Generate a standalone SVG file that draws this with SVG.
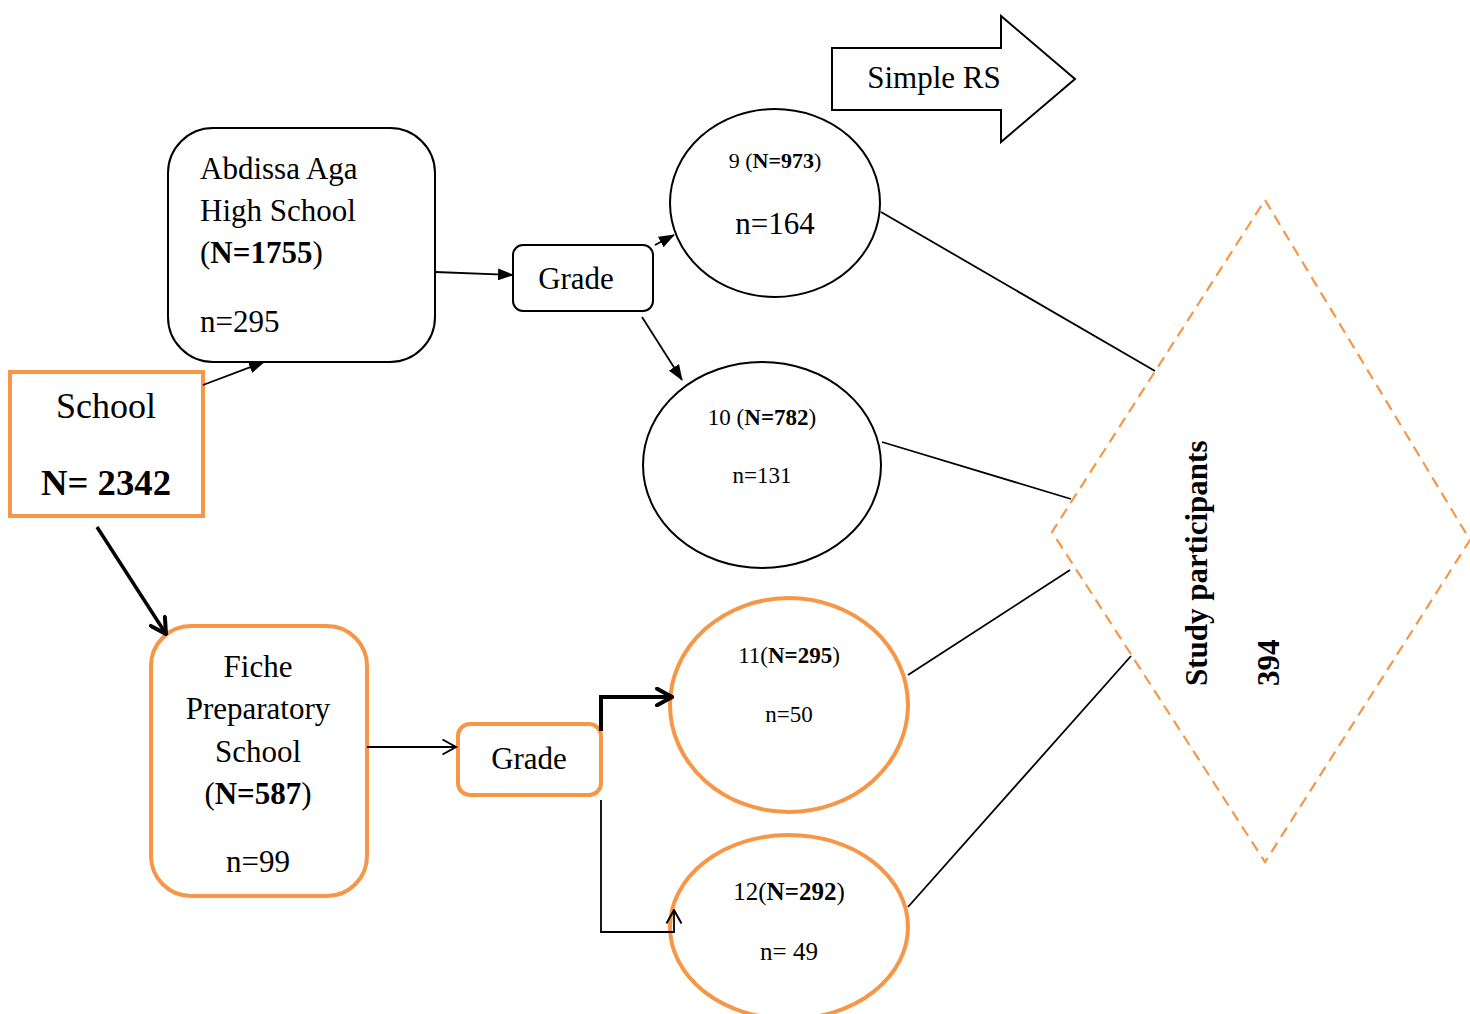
<svg xmlns="http://www.w3.org/2000/svg" width="1470" height="1014" viewBox="0 0 1470 1014">
<style>
  text { font-family: "Liberation Serif", "Times New Roman", serif; fill: #000; }
  .blk { fill: #fff; stroke: #000; stroke-width: 2; }
  .org { fill: #fff; stroke: #F79646; stroke-width: 4; }
  .ln { fill: none; stroke: #000; stroke-width: 1.8; }
  .b { font-weight: bold; }
  .mid { text-anchor: middle; }
</style>
<defs>
  <marker id="tri" viewBox="0 0 16 12" refX="15" refY="6" markerWidth="16" markerHeight="12" markerUnits="userSpaceOnUse" orient="auto">
    <path d="M0,0 L16,6 L0,12 z" fill="#000"/>
  </marker>
  <marker id="chev" viewBox="0 0 12 12" refX="11" refY="6" markerWidth="18" markerHeight="18" markerUnits="userSpaceOnUse" orient="auto">
    <path d="M2,1 L11,6 L2,11" fill="none" stroke="#000" stroke-width="1.3"/>
  </marker>
  <marker id="chevThick" viewBox="0 0 12 12" refX="11" refY="6" markerWidth="20" markerHeight="20" markerUnits="userSpaceOnUse" orient="auto">
    <path d="M2,1 L11,6 L2,11" fill="none" stroke="#000" stroke-width="2.4" stroke-linecap="round"/>
  </marker>
</defs>

<g id="simple-rs">
  <path d="M832,48 L1001,48 L1001,16 L1075,79 L1001,142 L1001,110 L832,110 z" fill="#fff" stroke="#000" stroke-width="2"/>
  <text x="934" y="88" class="mid" font-size="31">Simple RS</text>
</g>

<g id="school">
  <rect x="10" y="372" width="193" height="144" class="org"/>
  <text x="106" y="418" class="mid" font-size="36">School</text>
  <text x="106" y="495" class="mid b" font-size="36" textLength="130" lengthAdjust="spacingAndGlyphs">N= 2342</text>
</g>

<g id="abdissa">
  <rect x="168" y="128" width="267" height="234" rx="45" class="blk"/>
  <text x="200" y="179" font-size="31">Abdissa Aga</text>
  <text x="200" y="221" font-size="31">High School</text>
  <text x="200" y="263" font-size="31">(<tspan class="b">N=1755</tspan>)</text>
  <text x="200" y="332" font-size="31">n=295</text>
</g>

<g id="grade-top">
  <rect x="513" y="245" width="140" height="66" rx="10" class="blk"/>
  <text x="576" y="289" class="mid" font-size="31">Grade</text>
</g>

<g id="grade9">
  <ellipse cx="775" cy="203" rx="105" ry="94" class="blk"/>
  <text x="775" y="168" class="mid" font-size="22">9 (<tspan class="b">N=973</tspan>)</text>
  <text x="775" y="234" class="mid" font-size="31">n=164</text>
</g>

<g id="grade10">
  <ellipse cx="762" cy="465" rx="119" ry="103" class="blk"/>
  <text x="762" y="425" class="mid" font-size="23">10 (<tspan class="b">N=782</tspan>)</text>
  <text x="762" y="483" class="mid" font-size="23">n=131</text>
</g>

<g id="fiche">
  <rect x="151" y="626" width="216" height="270" rx="40" class="org"/>
  <text x="258" y="677" class="mid" font-size="31">Fiche</text>
  <text x="258" y="719" class="mid" font-size="31">Preparatory</text>
  <text x="258" y="762" class="mid" font-size="31">School</text>
  <text x="258" y="804" class="mid" font-size="31">(<tspan class="b">N=587</tspan>)</text>
  <text x="258" y="872" class="mid" font-size="31">n=99</text>
</g>

<g id="grade-bottom">
  <rect x="458" y="724" width="143" height="71" rx="12" class="org"/>
  <text x="529" y="769" class="mid" font-size="31">Grade</text>
</g>

<g id="grade11">
  <ellipse cx="789" cy="705" rx="119" ry="107" class="org"/>
  <text x="789" y="663" class="mid" font-size="23">11(<tspan class="b">N=295</tspan>)</text>
  <text x="789" y="722" class="mid" font-size="23">n=50</text>
</g>

<g id="grade12">
  <ellipse cx="789" cy="927" rx="119" ry="92" class="org"/>
  <text x="789" y="900" class="mid" font-size="25">12(<tspan class="b">N=292</tspan>)</text>
  <text x="789" y="960" class="mid" font-size="25">n= 49</text>
</g>

<g id="study-participants">
  <path d="M1265,200 L1470,540 L1265,862 L1052,532 z" fill="none" stroke="#F79646" stroke-width="2.2" stroke-dasharray="11,7"/>
  <text transform="translate(1207,686) rotate(-90)" class="b" font-size="31">Study participants</text>
  <text transform="translate(1279,686) rotate(-90)" class="b" font-size="31">394</text>
</g>

<g id="connectors">
  <line class="ln" x1="203" y1="385" x2="264" y2="362" marker-end="url(#tri)"/>
  <line class="ln" x1="435" y1="272" x2="513" y2="275" marker-end="url(#tri)"/>
  <line class="ln" x1="655" y1="245" x2="674" y2="235" marker-end="url(#tri)"/>
  <line class="ln" x1="642" y1="317" x2="682" y2="380" marker-end="url(#tri)"/>
  <line x1="97" y1="527" x2="166" y2="634" stroke="#000" stroke-width="3.5" marker-end="url(#chevThick)"/>
  <line class="ln" x1="367" y1="747" x2="456" y2="747" marker-end="url(#chev)"/>
  <polyline points="601,731 601,697 672,697" fill="none" stroke="#000" stroke-width="4" marker-end="url(#chevThick)"/>
  <polyline class="ln" points="601,800 601,932 674,932 674,910" marker-end="url(#chev)"/>
  <line class="ln" x1="881" y1="212" x2="1155" y2="371"/>
  <line class="ln" x1="882" y1="442" x2="1071" y2="499"/>
  <line class="ln" x1="908" y1="675" x2="1070" y2="570"/>
  <line class="ln" x1="908" y1="907" x2="1131" y2="656"/>
</g>
</svg>
